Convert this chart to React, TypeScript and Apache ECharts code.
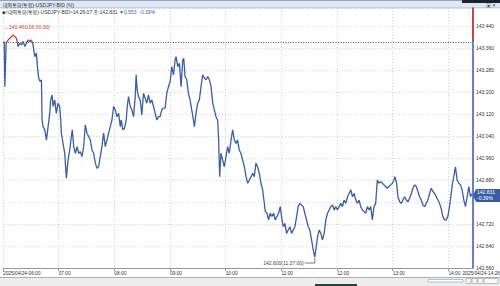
import React, { useEffect, useRef } from "react";
import * as echarts from "echarts";

// minutes after 06:00 (2025/04/24), tick prices of USDJPY BID
const tickMinutes = [
  1.3, 2.0, 3.4, 5.6, 9.1, 10.9, 12.7, 14.5, 16.3, 18.1, 19.9, 21.7, 23.5, 25.3, 27.1, 28.9, 30.6, 32.4, 34.2, 36.0,
  37.1, 38.5, 40.0, 41.4, 42.1, 43.2, 45.0, 46.8, 48.6, 50.4, 51.4, 52.9, 54.0, 55.7, 57.5, 59.3, 61.1, 62.2, 62.9, 64.7,
  66.5, 68.3, 70.1, 71.9, 73.7, 74.7, 76.2, 78.0, 79.8, 81.5, 83.3, 85.1, 86.9, 88.7, 90.5, 92.3, 94.1, 95.9, 97.7, 99.5,
  101.3, 103.0, 104.8, 106.6, 108.4, 110.2, 112.0, 113.8, 115.6, 117.4, 119.2, 121.0, 122.8, 124.6, 126.4,
  127.4, 129.2, 131.0, 132.8, 133.9, 135.3, 137.1, 138.9, 140.7, 142.5, 143.5, 144.6, 146.0, 147.8, 149.6, 151.4, 153.2, 155.0, 156.8, 158.6,
  160.4, 162.2, 164.0, 165.8, 167.5, 169.3, 171.1, 172.9, 174.7, 176.5, 178.3, 180.1, 181.9, 183.7, 185.5, 186.5, 188.3, 190.1, 191.9, 193.7,
  194.8, 196.2, 198.0, 199.8, 201.6, 203.4, 205.2, 206.3, 208.0, 209.8, 211.6, 213.4, 215.2, 217.0, 218.8, 220.6, 222.4, 224.2, 226.0, 227.8,
  229.5, 231.3, 232.4, 233.5, 234.9, 236.7, 238.5, 240.3, 242.1, 243.9, 245.7, 247.5, 249.3, 251.1, 252.8, 254.6, 256.4, 258.2,
  260.1, 261.9, 263.7, 265.5, 267.3, 269.0, 270.8, 272.6, 274.4, 276.2, 278.0, 279.8, 281.6, 282.7, 284.5, 286.2, 288.0, 289.8, 291.6, 293.4,
  295.2, 297.0, 298.8, 300.2, 302.0, 303.8, 305.6, 307.4, 309.2, 311.0, 312.8, 314.6, 316.4, 318.1, 319.9, 321.7, 323.5, 325.3, 327.1, 328.9,
  330.7, 332.5, 334.3, 336.0, 337.6, 339.0, 340.7, 342.5, 344.3, 346.1, 347.9, 349.7, 351.5, 353.3, 355.1, 356.9, 358.6, 360.4, 362.2, 364.0,
  365.8, 367.6, 369.4, 371.2, 373.0, 374.8, 376.6, 378.4, 380.2, 382.0, 383.7, 385.5,
  387.3, 389.1, 390.9, 392.7, 394.5, 396.3, 398.0, 399.8, 401.6, 403.4, 405.2, 407.0, 408.8, 410.6, 412.4, 414.2, 416.0, 417.8, 419.6, 421.3,
  422.4, 424.2, 425.6, 427.4, 429.2, 431.0, 432.8, 434.6, 436.4, 438.2, 440.0, 441.8, 443.6, 445.4, 447.1, 448.9, 450.7, 452.5, 454.3, 456.1,
  457.9, 459.7, 461.5, 463.3, 465.1, 466.9, 468.7, 470.4, 472.2, 474.0, 475.8, 477.6, 479.4, 481.2, 483.0, 484.4, 485.8, 487.6, 489.4, 491.2,
  493.0, 494.8, 496.6, 498.4, 500.2, 502.0, 503.8, 505.6,
];

const tickPrices = [
  143.383, 143.219, 143.377, 143.389, 143.401, 143.407, 143.401, 143.395, 143.365, 143.377, 143.371, 143.383, 143.365, 143.377, 143.389, 143.383, 143.389, 143.371, 143.328, 143.341,
  143.292, 143.250, 143.238, 143.244, 143.098, 143.074, 143.062, 143.025, 143.074, 143.122, 143.171, 143.189, 143.147, 143.171, 143.122, 143.159, 143.147, 143.098, 143.050, 143.013,
  142.977, 142.886, 142.953, 142.989, 143.038, 143.062, 143.001, 142.977, 143.001, 142.977, 142.983, 142.965, 143.001, 143.080, 143.050, 143.038, 143.025, 142.989, 142.977, 142.941,
  142.922, 142.928, 142.965, 143.001, 143.050, 143.001, 143.025, 143.050, 143.074, 143.098, 143.147, 143.135, 143.110, 143.122, 143.074,
  143.098, 143.062, 143.068, 143.098, 143.147, 143.183, 143.147, 143.135, 143.110, 143.183, 143.262, 143.207, 143.183, 143.171, 143.116, 143.195, 143.177, 143.159, 143.189, 143.159,
  143.171, 143.147, 143.122, 143.098, 143.110, 143.110, 143.135, 143.141, 143.141, 143.195, 143.219, 143.238, 143.292, 143.262, 143.316, 143.328, 143.292, 143.304, 143.219, 143.316,
  143.322, 143.256, 143.244, 143.195, 143.171, 143.135, 143.098, 143.074, 143.122, 143.159, 143.171, 143.219, 143.262, 143.250, 143.244, 143.256, 143.244, 143.219, 143.159, 143.135,
  143.110, 143.098, 143.025, 142.892, 142.977, 142.953, 142.928, 142.965, 143.001, 142.977, 143.025, 143.062, 143.025, 143.013, 143.025, 142.989, 142.977, 142.953,
  142.928, 142.892, 142.868, 142.880, 142.892, 142.904, 142.892, 142.941, 142.928, 142.904, 142.868, 142.844, 142.795, 142.765, 142.759, 142.735, 142.759, 142.747, 142.759, 142.735,
  142.747, 142.759, 142.783, 142.747, 142.710, 142.722, 142.686, 142.698, 142.710, 142.686, 142.698, 142.710, 142.747, 142.783, 142.795, 142.789, 142.783, 142.759, 142.735, 142.710,
  142.698, 142.662, 142.626, 142.600, 142.638, 142.674, 142.698, 142.686, 142.662, 142.686, 142.735, 142.759, 142.771, 142.783, 142.789, 142.771, 142.783, 142.771, 142.783, 142.795,
  142.783, 142.807, 142.795, 142.819, 142.831, 142.844, 142.819, 142.831, 142.807, 142.795, 142.807, 142.783,
  142.771, 142.765, 142.759, 142.783, 142.771, 142.783, 142.735, 142.783, 142.795, 142.880, 142.868, 142.874, 142.868, 142.862, 142.856, 142.850, 142.856, 142.862, 142.868, 142.880,
  142.892, 142.868, 142.819, 142.801, 142.795, 142.807, 142.819, 142.807, 142.801, 142.813, 142.831, 142.850, 142.862, 142.856, 142.838, 142.819, 142.807, 142.789, 142.783, 142.795,
  142.807, 142.831, 142.850, 142.838, 142.831, 142.819, 142.807, 142.795, 142.777, 142.747, 142.735, 142.735, 142.747, 142.783, 142.831, 142.868, 142.892, 142.928, 142.880, 142.868,
  142.862, 142.844, 142.807, 142.783, 142.819, 142.856, 142.819, 142.831,
];

const hourLabels = ["2025/04/24-06:00", "07:00", "08:00", "09:00", "10:00", "11:00", "12:00", "13:00", "14:00"];
const endLabel = "2025/04/24-14:26";
const prevClose = 143.384;
const lastPrice = 142.831;
const lowPoint = [336.0, 142.6];
const highText = "←143.461(06:00:30)";
const lowText = "142.600(11:37:00)";
const titleText = "대외통화(통합)-USDJPY-BID (틱)";
const headerMain = "■<대외통화(통합)-USDJPY-BID>14:26:07 종:142.831 ";
const headerChange = "▼0.553  -0.39%";
const boxTexts = ["142.831", "-0.39%"];

const FONT = "'Liberation Sans', 'Noto Sans CJK KR', sans-serif";
const BLUE = "#3a5ca6";
const RED = "#e0322a";
const Y_MIN = 142.56;
const Y_MAX = 143.505;

export default function App() {
  const ref = useRef<HTMLDivElement>(null);
  useEffect(() => {
    const chart = echarts.init(ref.current!, null, { renderer: "svg" });
    const data = tickMinutes.map((m, i) => [m, tickPrices[i]]);
    chart.setOption({
      animation: false,
      textStyle: { fontFamily: FONT },
      grid: { left: 1.5, right: 27, top: 8, bottom: 18 },
      xAxis: {
        type: "value",
        min: 0,
        max: 506.5,
        interval: 60,
        axisLine: { show: true, onZero: false, lineStyle: { color: "#9a9a9a" } },
        axisTick: { show: true, length: 3, lineStyle: { color: "#9a9a9a" } },
        axisLabel: {
          formatter: (v: number) => {
            const k = Math.round(v / 60);
            return Math.abs(v - k * 60) < 0.01 && hourLabels[k] !== undefined ? hourLabels[k] : "";
          },
          align: "left",
          fontSize: 4.8,
          color: "#333",
          margin: 3,
          showMaxLabel: false,
          fontFamily: FONT,
        },
        splitLine: { show: true, lineStyle: { type: [1, 2], color: "#cfcfcf" } },
      },
      yAxis: {
        type: "value",
        position: "right",
        min: Y_MIN,
        max: Y_MAX,
        interval: 0.08,
        axisLine: { show: true, onZero: false, lineStyle: { color: BLUE, width: 1.5 } },
        axisTick: { show: false },
        axisLabel: {
          // the 142.800 label sits under the current-price box
          formatter: (v: number) => (Math.abs(v - 142.8) < 0.001 ? "" : v.toFixed(3)),
          fontSize: 5,
          color: "#333",
          margin: 3,
          showMaxLabel: false,
          fontFamily: FONT,
        },
        splitLine: { show: true, lineStyle: { type: [1, 2], color: "#d4d4d4" } },
      },
      series: [
        {
          type: "line",
          data,
          showSymbol: false,
          lineStyle: { width: 1.3, color: BLUE },
          markLine: {
            silent: true,
            symbol: "none",
            label: { show: false },
            lineStyle: { color: "#555", type: [1, 1.5], width: 1 },
            data: [{ yAxis: prevClose }],
          },
        },
      ],
    });

    const conv = (p: number[]) => chart.convertToPixel({ xAxisIndex: 0, yAxisIndex: 0 }, p) as number[];
    const top = conv([506.5, Y_MAX]);
    const bot = conv([506.5, Y_MIN]);
    const pc = conv([506.5, prevClose]);
    const lp = conv([506.5, lastPrice]);
    const lo = conv(lowPoint);
    const ax = top[0];
    const boxY = lp[1] + 2;
    const t = (pc[1] - top[1]) / (bot[1] - top[1]);

    chart.setOption({
      series: [
        {
          lineStyle: {
            width: 1.3,
            color: {
              type: "linear",
              x: 0,
              y: top[1],
              x2: 0,
              y2: bot[1],
              global: true,
              colorStops: [
                { offset: 0, color: RED },
                { offset: t, color: RED },
                { offset: t, color: BLUE },
                { offset: 1, color: BLUE },
              ],
            },
          },
        },
      ],
      graphic: [
        // title strip
        { type: "rect", shape: { x: 0, y: 0, width: 500, height: 8 }, style: { fill: "#dfe7f2" } },
        { type: "rect", shape: { x: 0, y: 0, width: 500, height: 1 }, style: { fill: "#8ea3c4" } },
        { type: "rect", shape: { x: 0, y: 7.5, width: 500, height: 0.8 }, style: { fill: "#a9b8cf" } },
        { type: "rect", shape: { x: 462, y: 0, width: 38, height: 3 }, style: { fill: "#1c2230" } },
        { type: "text", x: 3, y: 4.5, style: { text: titleText, fontSize: 5, fill: "#333", fontFamily: FONT, verticalAlign: "middle" } },
        { type: "text", x: 486, y: 4.5, style: { text: "▣ ×", fontSize: 5, fill: "#333", fontFamily: FONT, verticalAlign: "middle" } },
        // header row
        {
          type: "text",
          x: 2,
          y: 12,
          style: {
            text: "{a|" + headerMain + "}{b|" + headerChange + "}",
            fontFamily: FONT,
            verticalAlign: "middle",
            rich: {
              a: { fontSize: 5, fill: "#333", fontFamily: FONT },
              b: { fontSize: 5, fill: BLUE, fontFamily: FONT },
            },
          },
        },
        // red axis part above previous close
        { type: "line", shape: { x1: ax, y1: top[1], x2: ax, y2: pc[1] }, style: { stroke: RED, lineWidth: 1.5 }, z: 10 },
        // high label
        { type: "text", x: 4, y: 27, style: { text: highText, fontSize: 5, fill: RED, fontFamily: FONT, verticalAlign: "middle" } },
        // low label
        { type: "text", x: lo[0] - 11, y: lo[1] + 6, style: { text: lowText, fontSize: 5, fill: "#444", fontFamily: FONT, align: "right", verticalAlign: "middle" } },
        { type: "polyline", shape: { points: [[lo[0] - 10, lo[1] + 6], [lo[0], lo[1] + 6], [lo[0], lo[1] + 1]] }, style: { stroke: "#444", lineWidth: 0.7 } },
        // current price box
        {
          type: "polygon",
          shape: { points: [[ax, boxY], [ax + 3, boxY - 6.5], [500, boxY - 6.5], [500, boxY + 6.5], [ax + 3, boxY + 6.5]] },
          style: { fill: BLUE },
          z: 20,
        },
        { type: "text", x: ax + 4, y: boxY - 3, style: { text: boxTexts[0], fontSize: 5, fill: "#fff", fontFamily: FONT, verticalAlign: "middle" }, z: 21 },
        { type: "text", x: ax + 4, y: boxY + 3, style: { text: boxTexts[1], fontSize: 5, fill: "#fff", fontFamily: FONT, verticalAlign: "middle" }, z: 21 },
        // end label on x axis
        { type: "text", x: 500, y: 273.5, style: { text: endLabel, fontSize: 4.8, fill: "#333", fontFamily: FONT, align: "right", verticalAlign: "middle" } },
        // bottom scroll strip
        { type: "rect", shape: { x: 0, y: 277, width: 500, height: 9 }, style: { fill: "#ededed" } },
        { type: "rect", shape: { x: 0, y: 277, width: 500, height: 0.8 }, style: { fill: "#9a9a9a" } },
        { type: "rect", shape: { x: 428, y: 279.5, width: 35, height: 2.5 }, style: { fill: "#fff", stroke: "#8aa0c0", lineWidth: 0.6 } },
        { type: "rect", shape: { x: 466, y: 278.5, width: 5, height: 5 }, style: { fill: "#f8f8f8", stroke: "#888", lineWidth: 0.5 } },
        { type: "rect", shape: { x: 472, y: 278.5, width: 5, height: 5 }, style: { fill: "#f8f8f8", stroke: "#888", lineWidth: 0.5 } },
        { type: "rect", shape: { x: 478, y: 278.5, width: 5, height: 5 }, style: { fill: "#f8f8f8", stroke: "#888", lineWidth: 0.5 } },
        { type: "rect", shape: { x: 484, y: 278.5, width: 14, height: 5 }, style: { fill: "#f8f8f8", stroke: "#888", lineWidth: 0.5 } },
        { type: "rect", shape: { x: 315, y: 284, width: 42, height: 2 }, style: { fill: "#1d4a2e" } },
      ],
    });

    return () => chart.dispose();
  }, []);

  return (
    <div
      ref={ref}
      style={{ position: "fixed", left: 0, top: 0, width: 500, height: 286, background: "#fff" }}
    />
  );
}
